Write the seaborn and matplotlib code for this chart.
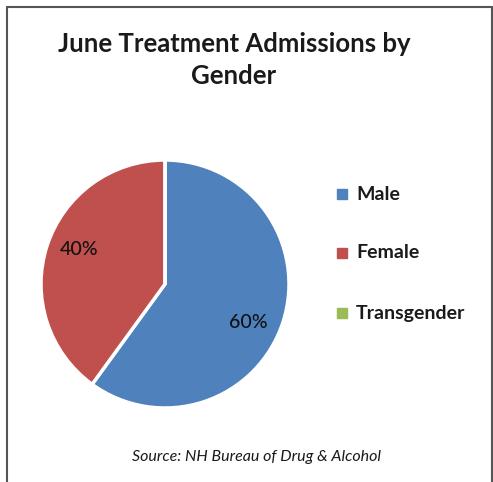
import matplotlib
matplotlib.use("Agg")
import matplotlib.pyplot as plt
from matplotlib.lines import Line2D
from matplotlib.patches import Rectangle
import seaborn as sns

sns.set_theme(style="white")
plt.rcParams["font.family"] = ["Lato", "DejaVu Sans"]

categories = ["Male", "Female", "Transgender"]
values = [60, 40, 0]
colors = ["#4F81BD", "#C0504D", "#9BBB59"]
title = "June Treatment Admissions by\nGender"
source = "Source: NH Bureau of Drug & Alcohol"

W, H = 493, 482
fig = plt.figure(figsize=(W / 100, H / 100), dpi=100)

# pie axes: centre (165, 284), radius ~123 px
r = 124
ax = fig.add_axes([(165 - r) / W, 1 - (284 + r) / H, 2 * r / W, 2 * r / H])
wedges, _ = ax.pie(values, colors=colors, startangle=90, counterclock=False,
                   wedgeprops=dict(edgecolor="white", linewidth=2.5),
                   radius=1.0)
ax.set_xlim(-1, 1)
ax.set_ylim(-1, 1)
ax.set_aspect("equal")
ax.axis("off")

# percentage labels, placed inside each slice
label_pos = {"Male": (0.67, -0.31), "Female": (-0.69, 0.28)}
for name, v in zip(categories, values):
    if v == 0:
        continue
    x, y = label_pos[name]
    ax.text(x, y, f"{v}%", ha="center", va="center", fontsize=14,
            fontweight="medium", color="#111111")

fig.text(234 / W, 1 - 60 / H, title, ha="center", va="center",
         fontsize=18.5, fontweight="bold", color="#1a1a1a", linespacing=1.4)

# legend
leg_y = [194, 253, 313]
for name, c, yy in zip(categories, colors, leg_y):
    fig.patches.append(Rectangle(((342 - 5) / W, 1 - (yy + 5) / H), 10 / W, 10 / H,
                                 transform=fig.transFigure, color=c))
    fig.text(356 / W, 1 - yy / H, name, ha="left", va="center",
             fontsize=14, fontweight="bold", color="#1a1a1a")

fig.text(256 / W, 1 - 457 / H, source, ha="center", va="center",
         fontsize=11.5, style="italic", color="#1a1a1a")

# frame
for xs, ys in [([7, 7], [482, 7]), ([7, 492], [7, 7]), ([492, 492], [7, 482])]:
    fig.lines.append(Line2D([x / W for x in xs], [1 - y / H for y in ys],
                            transform=fig.transFigure, color="#555555", lw=1.5))

fig.savefig("out.png", dpi=100)
